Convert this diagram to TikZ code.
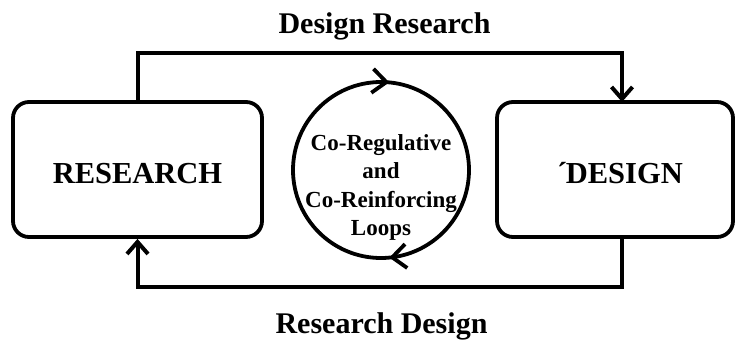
\documentclass[tikz,border=0pt]{standalone}
\usepackage{fontspec}
\setmainfont{Liberation Serif}
\usetikzlibrary{arrows.meta,decorations.markings}
\begin{document}
\begin{tikzpicture}[x=1pt,y=-1pt,
  boxstyle/.style={draw, line width=3.8pt, rounded corners=16pt, minimum width=249pt, minimum height=135pt, inner sep=0pt},
  conn/.style={line width=4pt, line join=miter},
  tipstyle/.style={-{Straight Barb[length=12pt,width=21pt,line width=4pt]}},
  titletext/.style={font=\bfseries\fontsize{30}{34}\selectfont, inner sep=0pt, anchor=base},
  boxtext/.style={font=\bfseries\fontsize{30.5}{34}\selectfont, inner sep=0pt, anchor=base},
  looptext/.style={font=\bfseries\fontsize{23}{28.5}\selectfont, align=center, inner sep=0pt}
]
\useasboundingbox (0,0) rectangle (735,343);
\node[boxstyle] (lbox) at (137.5,169.5) {};
\node[boxstyle, minimum width=236pt] (rbox) at (615,169.5) {};
\node[boxtext] (ltext) at (137.5,183) {RESEARCH};
\node[boxtext] (rtext) at (620,183) {´\kern-0.05em DESIGN};
\node[titletext] (ttop) at (384.5,33) {Design Research};
\node[titletext] (tbot) at (381.5,333) {Research Design};
\node[circle, draw, line width=3.8pt, minimum size=176pt, inner sep=0pt] (loop) at (381,170) {};
\node[looptext] (ltxt) at (381,187.5) {Co-Regulative\\and\\Co-Reinforcing\\Loops};
\path[decoration={markings,
   mark=at position 0.235 with {\arrowreversed{Straight Barb[length=14pt,width=24pt,line width=3.8pt]}},
   mark=at position 0.765 with {\arrowreversed{Straight Barb[length=14pt,width=24pt,line width=3.8pt]}}},
   postaction={decorate}] (381,170) circle[radius=88pt];
\coordinate (tr) at (622,102);
\coordinate (br) at (622,237);
\draw[conn, tipstyle] (lbox.north) -- (137.5,53) -- (622,53) -- (tr);
\draw[conn, tipstyle] (br) -- (622,287) -- (137.5,287) -- (lbox.south);
\end{tikzpicture}
\end{document}
